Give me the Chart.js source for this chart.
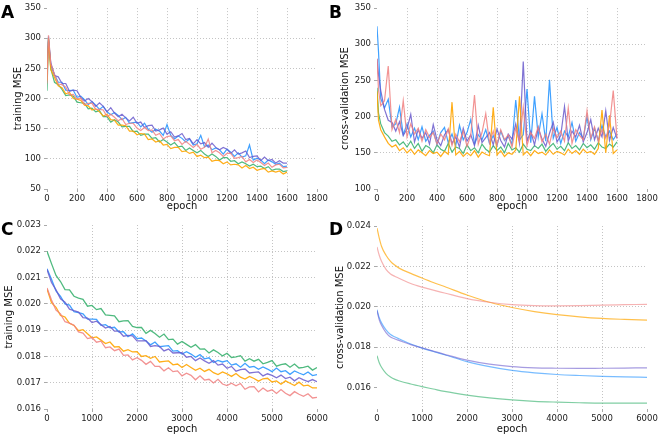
<!DOCTYPE html>
<html>
<head>
<meta charset="utf-8">
<script src="https://cdn.jsdelivr.net/npm/chart.js@4.4.0/dist/chart.umd.min.js"></script>
<style>
  body { margin: 0; background: #fff; width: 660px; height: 436px; position: relative; overflow: hidden; }
  canvas { position: absolute; }
  .tag { position: absolute; font: bold 17px/1 "DejaVu Sans", sans-serif; color: #000; }
</style>
</head>
<body>
<canvas id="chartA" width="330" height="214" style="left:0;top:0"></canvas>
<canvas id="chartB" width="330" height="214" style="left:330px;top:0"></canvas>
<canvas id="chartC" width="330" height="222" style="left:0;top:214px"></canvas>
<canvas id="chartD" width="330" height="222" style="left:330px;top:214px"></canvas>
<div class="tag" style="left:1px;top:4px">A</div>
<div class="tag" style="left:329px;top:4px">B</div>
<div class="tag" style="left:1px;top:221px">C</div>
<div class="tag" style="left:329px;top:221px">D</div>
<script>
// ---- panels A and B: epochs 0..1600 ----
const EPOCHS_AB = [
  0, 10, 25, 50, 75, 100, 125, 150, 175, 200, 225,
  250, 275, 300, 325, 350, 375, 400, 425, 450, 475, 500,
  525, 550, 575, 600, 625, 650, 675, 700, 725, 750, 775,
  800, 825, 850, 875, 900, 925, 950, 975, 1000, 1025, 1050,
  1075, 1100, 1125, 1150, 1175, 1200, 1225, 1250, 1275, 1300, 1325,
  1350, 1375, 1400, 1425, 1450, 1475, 1500, 1525, 1550, 1575, 1600
];

// A: training MSE
const A_PURPLE = [
  250, 296, 260, 238, 236, 225, 225, 212, 214, 213, 202,
  196, 200, 195, 187, 193, 187, 178, 185, 176, 170, 174,
  168, 163, 169, 159, 161, 152, 155, 156, 146, 148, 151,
  141, 145, 136, 138, 142, 132, 134, 125, 132, 125, 127,
  119, 126, 119, 115, 119, 116, 109, 115, 108, 110, 113,
  102, 104, 105, 97, 103, 97, 99, 93, 97, 93, 93
];
const A_BLUE = [
  260, 303, 256, 240, 227, 227, 214, 213, 214, 202, 204,
  198, 190, 195, 189, 182, 187, 178, 173, 177, 172, 165,
  169, 159, 160, 161, 153, 159, 149, 144, 149, 146, 139,
  157, 139, 133, 138, 134, 128, 133, 123, 125, 139, 120,
  123, 115, 118, 115, 108, 116, 111, 104, 110, 103, 105,
  123, 98, 101, 98, 92, 98, 95, 91, 93, 87, 88
];
const A_SALMON = [
  225, 305, 258, 240, 224, 223, 219, 206, 207, 199, 201,
  190, 192, 192, 182, 182, 181, 170, 174, 169, 163, 167,
  157, 159, 159, 151, 147, 152, 147, 148, 139, 142, 133,
  137, 138, 130, 132, 124, 129, 124, 119, 124, 116, 119,
  133, 110, 114, 110, 104, 109, 109, 101, 102, 104, 95,
  99, 94, 98, 94, 89, 93, 86, 90, 91, 85, 86
];
const A_GREEN = [
  213, 298, 250, 227, 223, 215, 205, 206, 204, 194, 193,
  192, 183, 184, 178, 180, 170, 170, 161, 165, 161, 153,
  154, 154, 145, 146, 139, 141, 141, 134, 135, 128, 132,
  128, 123, 127, 120, 121, 114, 118, 114, 110, 114, 108,
  104, 108, 104, 98, 102, 102, 96, 97, 92, 95, 92,
  88, 91, 87, 88, 84, 87, 81, 83, 83, 79, 80
];
const A_ORANGE = [
  230, 300, 248, 235, 221, 218, 208, 210, 200, 199, 197,
  189, 188, 181, 183, 178, 171, 174, 165, 164, 156, 156,
  155, 146, 146, 140, 142, 141, 132, 133, 128, 130, 123,
  124, 117, 119, 119, 112, 113, 109, 111, 104, 106, 102,
  103, 96, 98, 97, 92, 95, 90, 91, 90, 85, 89,
  84, 86, 81, 83, 84, 78, 80, 78, 80, 75, 78
];

// B: cross-validation MSE
const B_PURPLE = [
  280, 258, 236, 210, 195, 192, 180, 193, 174, 183, 203,
  165, 182, 170, 178, 162, 189, 168, 160, 175, 182, 163,
  172, 158, 184, 166, 175, 160, 188, 164, 171, 178, 161,
  183, 167, 158, 176, 169, 190, 163, 276, 166, 180, 161,
  185, 169, 159, 177, 192, 165, 174, 214, 166, 180, 172,
  188, 165, 178, 196, 168, 184, 172, 208, 167, 185, 170
];
const B_BLUE = [
  325, 290, 225, 212, 224, 186, 190, 213, 175, 190, 172,
  184, 168, 186, 166, 174, 180, 162, 178, 185, 164, 176,
  160, 188, 168, 178, 196, 162, 175, 168, 182, 163, 174,
  160, 180, 167, 173, 162, 223, 168, 175, 238, 164, 228,
  172, 204, 166, 251, 170, 185, 163, 180, 172, 192, 166,
  178, 170, 200, 168, 184, 167, 188, 172, 180, 168, 176
];
const B_SALMON = [
  280, 237, 215, 222, 270, 182, 196, 178, 222, 172, 190,
  176, 184, 166, 182, 171, 178, 162, 176, 168, 183, 160,
  176, 165, 180, 159, 174, 230, 162, 178, 204, 164, 180,
  161, 182, 168, 175, 158, 184, 166, 213, 160, 178, 170,
  186, 165, 176, 162, 184, 171, 180, 166, 212, 163, 182,
  174, 168, 208, 170, 186, 166, 182, 170, 188, 236, 170
];
const B_GREEN = [
  240, 205, 190, 178, 173, 166, 168, 161, 165, 158, 166,
  156, 163, 152, 160, 157, 150, 161, 155, 152, 163, 151,
  158, 156, 149, 161, 153, 157, 150, 162, 155, 151, 160,
  153, 158, 150, 163, 154, 157, 151, 162, 155, 153, 160,
  156, 162, 152, 158, 163, 155, 159, 153, 164, 156, 160,
  154, 163, 157, 161, 155, 164, 158, 156, 162, 158, 165
];
const B_ORANGE = [
  235, 195, 182, 172, 163, 158, 161, 153, 157, 150, 155,
  148, 154, 150, 146, 153, 149, 151, 145, 152, 148, 220,
  147, 152, 145, 150, 146, 153, 144, 151, 148, 146, 213,
  147, 153, 145, 150, 148, 154, 228, 147, 152, 146, 153,
  149, 151, 147, 154, 148, 152, 150, 147, 155, 149, 153,
  148, 155, 150, 152, 148, 156, 209, 150, 202, 149, 154
];

// ---- panel C: training MSE, epochs 0..6000 ----
const EPOCHS_C = [
  0, 100, 200, 300, 400, 500, 600, 700, 800, 900,
  1000, 1100, 1200, 1300, 1400, 1500, 1600, 1700, 1800, 1900,
  2000, 2100, 2200, 2300, 2400, 2500, 2600, 2700, 2800, 2900,
  3000, 3100, 3200, 3300, 3400, 3500, 3600, 3700, 3800, 3900,
  4000, 4100, 4200, 4300, 4400, 4500, 4600, 4700, 4800, 4900,
  5000, 5100, 5200, 5300, 5400, 5500, 5600, 5700, 5800, 5900,
  6000
];
const C_GREEN = [
  0.02200, 0.02153, 0.02108, 0.02085, 0.02054, 0.02053, 0.02029, 0.02022, 0.02017, 0.01991,
  0.01994, 0.01978, 0.01982, 0.01958, 0.01956, 0.01954, 0.01932, 0.01935, 0.01936, 0.01914,
  0.01910, 0.01910, 0.01888, 0.01899, 0.01887, 0.01873, 0.01885, 0.01864, 0.01866, 0.01847,
  0.01857, 0.01846, 0.01835, 0.01845, 0.01828, 0.01829, 0.01813, 0.01825, 0.01815, 0.01802,
  0.01812, 0.01796, 0.01798, 0.01803, 0.01782, 0.01791, 0.01782, 0.01789, 0.01772, 0.01777,
  0.01784, 0.01763, 0.01769, 0.01772, 0.01759, 0.01771, 0.01756, 0.01758, 0.01763, 0.01748,
  0.01758
];
const C_BLUE = [
  0.02134, 0.02094, 0.02049, 0.02028, 0.02000, 0.01995, 0.01970, 0.01967, 0.01962, 0.01942,
  0.01942, 0.01941, 0.01918, 0.01921, 0.01909, 0.01911, 0.01893, 0.01894, 0.01875, 0.01886,
  0.01868, 0.01870, 0.01859, 0.01844, 0.01855, 0.01837, 0.01839, 0.01841, 0.01820, 0.01822,
  0.01809, 0.01818, 0.01809, 0.01797, 0.01807, 0.01791, 0.01795, 0.01777, 0.01785, 0.01779,
  0.01784, 0.01767, 0.01772, 0.01759, 0.01774, 0.01759, 0.01762, 0.01751, 0.01760, 0.01752,
  0.01742, 0.01756, 0.01742, 0.01746, 0.01732, 0.01745, 0.01737, 0.01730, 0.01741, 0.01727,
  0.01731
];
const C_PURPLE = [
  0.02131, 0.02081, 0.02053, 0.02019, 0.02006, 0.01980, 0.01974, 0.01969, 0.01948, 0.01946,
  0.01929, 0.01934, 0.01921, 0.01908, 0.01914, 0.01896, 0.01896, 0.01877, 0.01880, 0.01878,
  0.01859, 0.01859, 0.01860, 0.01838, 0.01841, 0.01838, 0.01821, 0.01828, 0.01813, 0.01814,
  0.01814, 0.01797, 0.01800, 0.01784, 0.01794, 0.01783, 0.01774, 0.01784, 0.01767, 0.01771,
  0.01755, 0.01762, 0.01744, 0.01750, 0.01752, 0.01737, 0.01739, 0.01741, 0.01726, 0.01734,
  0.01728, 0.01719, 0.01729, 0.01716, 0.01721, 0.01707, 0.01719, 0.01711, 0.01704, 0.01712,
  0.01704
];
const C_ORANGE = [
  0.02057, 0.02005, 0.01987, 0.01956, 0.01950, 0.01926, 0.01918, 0.01898, 0.01902, 0.01886,
  0.01871, 0.01874, 0.01862, 0.01849, 0.01855, 0.01836, 0.01837, 0.01820, 0.01826, 0.01817,
  0.01818, 0.01800, 0.01803, 0.01793, 0.01800, 0.01779, 0.01781, 0.01783, 0.01768, 0.01771,
  0.01758, 0.01769, 0.01758, 0.01747, 0.01755, 0.01743, 0.01751, 0.01738, 0.01731, 0.01741,
  0.01734, 0.01724, 0.01735, 0.01721, 0.01714, 0.01724, 0.01716, 0.01706, 0.01715, 0.01717,
  0.01703, 0.01707, 0.01694, 0.01707, 0.01698, 0.01689, 0.01702, 0.01688, 0.01691, 0.01680,
  0.01680
];
const C_SALMON = [
  0.02060, 0.02015, 0.01976, 0.01962, 0.01932, 0.01927, 0.01919, 0.01893, 0.01889, 0.01868,
  0.01872, 0.01854, 0.01858, 0.01833, 0.01836, 0.01822, 0.01828, 0.01804, 0.01806, 0.01787,
  0.01795, 0.01785, 0.01770, 0.01781, 0.01762, 0.01762, 0.01745, 0.01757, 0.01742, 0.01745,
  0.01726, 0.01736, 0.01728, 0.01711, 0.01726, 0.01710, 0.01713, 0.01699, 0.01713, 0.01695,
  0.01689, 0.01698, 0.01688, 0.01697, 0.01675, 0.01684, 0.01685, 0.01665, 0.01680, 0.01667,
  0.01673, 0.01659, 0.01674, 0.01660, 0.01651, 0.01666, 0.01656, 0.01648, 0.01658, 0.01642,
  0.01644
];

// ---- panel D: cross-validation MSE (smooth) ----
const EPOCHS_D = [0, 50, 100, 200, 300, 400, 500, 750, 1000, 1250, 1500, 2000, 2500, 3000, 3500, 4000, 4500, 5000, 5500, 6000];
const D_ORANGE = [0.02390, 0.02340, 0.02300, 0.02255, 0.02225, 0.02205, 0.02190, 0.02165, 0.02142, 0.02120, 0.02100, 0.02058, 0.02022, 0.01996, 0.01976, 0.01961, 0.01950, 0.01942, 0.01937, 0.01933];
const D_SALMON = [0.02296, 0.02255, 0.02225, 0.02185, 0.02162, 0.02150, 0.02140, 0.02115, 0.02097, 0.02082, 0.02068, 0.02040, 0.02022, 0.02010, 0.02005, 0.02004, 0.02005, 0.02008, 0.02010, 0.02012];
const D_BLUE   = [0.01985, 0.01945, 0.01920, 0.01885, 0.01862, 0.01850, 0.01840, 0.01815, 0.01795, 0.01778, 0.01762, 0.01728, 0.01703, 0.01684, 0.01672, 0.01664, 0.01659, 0.01655, 0.01652, 0.01650];
const D_PURPLE = [0.01980, 0.01935, 0.01908, 0.01872, 0.01850, 0.01840, 0.01832, 0.01812, 0.01796, 0.01780, 0.01764, 0.01735, 0.01715, 0.01703, 0.01697, 0.01695, 0.01694, 0.01695, 0.01696, 0.01697];
const D_GREEN  = [0.01757, 0.01722, 0.01700, 0.01670, 0.01652, 0.01640, 0.01632, 0.01617, 0.01604, 0.01592, 0.01580, 0.01562, 0.01548, 0.01538, 0.01531, 0.01527, 0.01524, 0.01522, 0.01522, 0.01522];

// tick labels
const X_TICKS_AB = [0, 200, 400, 600, 800, 1000, 1200, 1400, 1600, 1800];
const Y_TICKS_A = [50, 100, 150, 200, 250, 300, 350];
const Y_TICKS_B = [100, 150, 200, 250, 300, 350];
const X_TICKS_CD = [0, 1000, 2000, 3000, 4000, 5000, 6000];
const Y_TICKS_C = [0.016, 0.017, 0.018, 0.019, 0.020, 0.021, 0.022, 0.023];
const Y_TICKS_D = [0.016, 0.018, 0.020, 0.022, 0.024];

const RGB = {
  green: '60,179,113',
  blue: '30,144,255',
  purple: '106,90,205',
  orange: '255,165,0',
  salmon: '240,128,128'
};
const FONT = '"DejaVu Sans", sans-serif';

function line(xs, ys, rgb, alpha, width, smooth) {
  return {
    data: xs.map((x, i) => ({ x: x, y: ys[i] })),
    borderColor: 'rgba(' + rgb + ',' + alpha + ')',
    borderWidth: width,
    pointRadius: 0,
    fill: false,
    tension: 0,
    cubicInterpolationMode: smooth ? 'monotone' : 'default'
  };
}

// hide grid lines on the frame edges, keep the dotted inner ones
const innerGrid = (ctx) =>
  (ctx.index === 0 || ctx.index === ctx.scale.ticks.length - 1) ? 'rgba(0,0,0,0)' : '#c4c4c4';

function axis(ticks, min, max, dec, title, titlePad, fit, tickPad) {
  return {
    type: 'linear',
    min: min,
    max: max,
    afterBuildTicks: (s) => { s.ticks = ticks.map(v => ({ value: v })); },
    afterFit: fit,
    grid: { color: innerGrid, lineWidth: 1, drawTicks: true, tickLength: 3, tickColor: '#aaa' },
    border: { display: false, dash: [1, 2] },
    ticks: {
      autoSkip: false, maxRotation: 0, padding: tickPad, color: '#222',
      font: { family: FONT, size: 8.5 },
      callback: (v) => Number(v).toFixed(dec)
    },
    title: { display: true, text: title, color: '#111', font: { family: FONT, size: 10 }, padding: titlePad }
  };
}

function drawPanel(id, datasets, x, y, topPad) {
  new Chart(document.getElementById(id), {
    type: 'line',
    data: { datasets: datasets },
    options: {
      responsive: false,
      animation: false,
      layout: { padding: { top: topPad, right: 13, bottom: 0, left: 0 } },
      plugins: { legend: { display: false }, tooltip: { enabled: false } },
      scales: { x: x, y: y }
    }
  });
}

const fitY = (s) => { s.width = 47; };
const fitXTop = (s) => { s.height = 25; };
const fitXBottom = (s) => { s.height = 27; };

// first dataset is drawn on top
drawPanel('chartA', [
  line(EPOCHS_AB, A_SALMON, RGB.salmon, 0.85, 1.2),
  line(EPOCHS_AB, A_ORANGE, RGB.orange, 0.9, 1.2),
  line(EPOCHS_AB, A_PURPLE, RGB.purple, 0.85, 1.2),
  line(EPOCHS_AB, A_BLUE, RGB.blue, 0.85, 1.2),
  line(EPOCHS_AB, A_GREEN, RGB.green, 0.9, 1.2)
],
  axis(X_TICKS_AB, 0, 1800, 0, 'epoch', { top: 0, bottom: 2 }, fitXTop, 2),
  axis(Y_TICKS_A, 50, 350, 0, 'training MSE', { top: 12, bottom: 0 }, fitY, 3),
  7);

drawPanel('chartB', [
  line(EPOCHS_AB, B_SALMON, RGB.salmon, 0.85, 1.2),
  line(EPOCHS_AB, B_ORANGE, RGB.orange, 0.9, 1.2),
  line(EPOCHS_AB, B_PURPLE, RGB.purple, 0.85, 1.2),
  line(EPOCHS_AB, B_BLUE, RGB.blue, 0.85, 1.2),
  line(EPOCHS_AB, B_GREEN, RGB.green, 0.9, 1.2)
],
  axis(X_TICKS_AB, 0, 1800, 0, 'epoch', { top: 0, bottom: 2 }, fitXTop, 2),
  axis(Y_TICKS_B, 100, 350, 0, 'cross-validation MSE', { top: 9, bottom: 0 }, fitY, 3),
  7);

drawPanel('chartC', [
  line(EPOCHS_C, C_SALMON, RGB.salmon, 0.85, 1.3),
  line(EPOCHS_C, C_ORANGE, RGB.orange, 0.9, 1.3),
  line(EPOCHS_C, C_PURPLE, RGB.purple, 0.85, 1.3),
  line(EPOCHS_C, C_BLUE, RGB.blue, 0.85, 1.3),
  line(EPOCHS_C, C_GREEN, RGB.green, 0.9, 1.3)
],
  axis(X_TICKS_CD, 0, 6000, 0, 'epoch', { top: 0, bottom: 1 }, fitXBottom, 2),
  axis(Y_TICKS_C, 0.016, 0.023, 3, 'training MSE', { top: 3, bottom: 0 }, fitY, 3),
  11);

drawPanel('chartD', [
  line(EPOCHS_D, D_SALMON, RGB.salmon, 0.6, 1.2, true),
  line(EPOCHS_D, D_ORANGE, RGB.orange, 0.7, 1.2, true),
  line(EPOCHS_D, D_PURPLE, RGB.purple, 0.6, 1.2, true),
  line(EPOCHS_D, D_BLUE, RGB.blue, 0.6, 1.2, true),
  line(EPOCHS_D, D_GREEN, RGB.green, 0.65, 1.2, true)
],
  axis(X_TICKS_CD, 0, 6000, 0, 'epoch', { top: 0, bottom: 1 }, fitXBottom, 2),
  axis(Y_TICKS_D, 0.01493, 0.024, 3, 'cross-validation MSE', { top: 4, bottom: 0 }, fitY, 3),
  12);
</script>
</body>
</html>
